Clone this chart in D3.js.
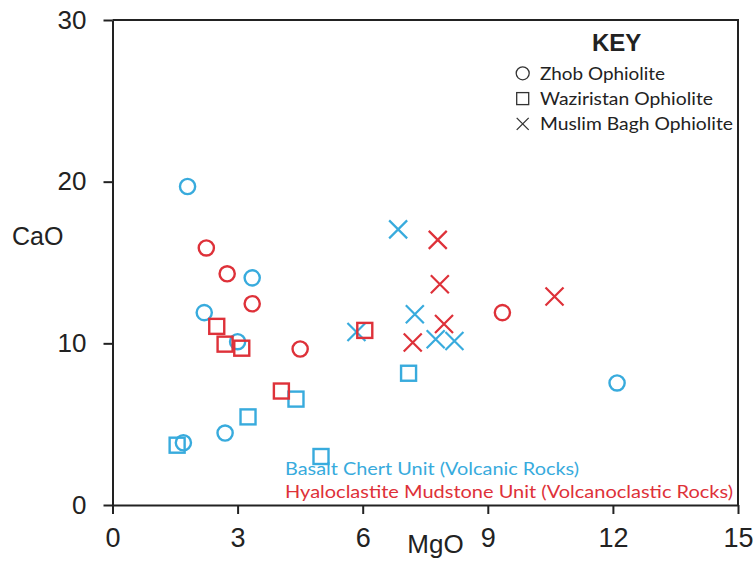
<!DOCTYPE html>
<html>
<head>
<meta charset="utf-8">
<script src="https://cdn.jsdelivr.net/npm/d3@7"></script>
<style>
  html, body { margin: 0; padding: 0; background: #fff; }
  svg { display: block; }
</style>
</head>
<body>
<svg id="chart" width="754" height="565"></svg>
<script>
// MgO vs CaO for volcanic and volcanoclastic rocks from three ophiolites

// Tick values for both axes
const xTicks = [0, 3, 6, 9, 12, 15];
const yTicks = [0, 10, 20, 30];

// Zhob Ophiolite (circles): [MgO, CaO]
const zhobBasalt = [[1.8, 19.7], [2.2, 11.9], [3.35, 14.05], [3.0, 10.1], [1.7, 3.85], [2.7, 4.45], [12.1, 7.55]];
const zhobHyalo  = [[2.25, 15.9], [2.75, 14.3], [3.35, 12.45], [4.5, 9.65], [9.35, 11.9]];

// Waziristan Ophiolite (squares)
const wazBasalt = [[1.55, 3.7], [3.25, 5.45], [4.4, 6.55], [5.0, 3.0], [7.1, 8.15]];
const wazHyalo  = [[2.5, 11.05], [2.7, 9.95], [3.1, 9.7], [4.05, 7.05], [6.05, 10.8]];

// Muslim Bagh Ophiolite (crosses)
const mbBasalt = [[6.85, 17.05], [7.25, 11.8], [5.85, 10.7], [7.75, 10.25], [8.2, 10.15]];
const mbHyalo  = [[7.8, 16.4], [7.85, 13.65], [10.6, 12.9], [7.95, 11.2], [7.2, 10.05]];

// Legend and unit labels
const keyTitle = "KEY";
const keyLabels = ["Zhob Ophiolite", "Waziristan Ophiolite", "Muslim Bagh Ophiolite"];
const keyShapes = ["circle", "square", "cross"];
const unitLabels = ["Basalt Chert Unit (Volcanic Rocks)", "Hyaloclastite Mudstone Unit (Volcanoclastic Rocks)"];

const BLUE = "#38abdd";
const RED = "#de3139";
const INK = "#222";

const svg = d3.select("#chart");
const x = d3.scaleLinear().domain([0, 15]).range([112.5, 738]);
const y = d3.scaleLinear().domain([0, 30]).range([505, 20]);

// Frame (top and right edges)
svg.append("path")
  .attr("d", `M${x(0)},${y(30)}H${x(15)}V${y(0)}`)
  .attr("fill", "none").attr("stroke", INK).attr("stroke-width", 2);

// Axes
const axisFont = "'Liberation Sans', Arial, sans-serif";
const gx = svg.append("g").attr("transform", `translate(0,${y(0)})`)
  .call(d3.axisBottom(x).tickValues(xTicks).tickSize(9).tickSizeOuter(0).tickPadding(14).tickFormat(d3.format("d")));
const gy = svg.append("g").attr("transform", `translate(${x(0)},0)`)
  .call(d3.axisLeft(y).tickValues(yTicks).tickSize(9).tickSizeOuter(0).tickPadding(17).tickFormat(d3.format("d")));
[gx, gy].forEach(g => {
  g.select(".domain").attr("stroke", INK).attr("stroke-width", 2);
  g.selectAll(".tick line").attr("stroke", INK).attr("stroke-width", 2);
  g.selectAll(".tick text").attr("fill", INK).style("font-family", axisFont);
});
gx.selectAll(".tick text").style("font-size", "27px");
gy.selectAll(".tick text").style("font-size", "26px");

// Axis titles
svg.append("text").text("MgO")
  .attr("x", 435.5).attr("y", 553).attr("text-anchor", "middle")
  .style("font-family", axisFont).style("font-size", "26px").attr("fill", INK);
svg.append("text").text("CaO")
  .attr("x", 12).attr("y", 245)
  .style("font-family", axisFont).style("font-size", "25px").attr("fill", INK);

// Marker drawing helpers
function drawCircles(data, color) {
  svg.append("g").selectAll("circle").data(data).join("circle")
    .attr("cx", d => x(d[0])).attr("cy", d => y(d[1])).attr("r", 7.6)
    .attr("fill", "none").attr("stroke", color).attr("stroke-width", 2.4);
}
function drawSquares(data, color) {
  const s = 15;
  svg.append("g").selectAll("rect").data(data).join("rect")
    .attr("x", d => x(d[0]) - s / 2).attr("y", d => y(d[1]) - s / 2)
    .attr("width", s).attr("height", s)
    .attr("fill", "none").attr("stroke", color).attr("stroke-width", 2.4);
}
function drawCrosses(data, color) {
  const h = 9;
  svg.append("g").selectAll("path").data(data).join("path")
    .attr("d", d => {
      const cx = x(d[0]), cy = y(d[1]);
      return `M${cx - h},${cy - h}L${cx + h},${cy + h}M${cx - h},${cy + h}L${cx + h},${cy - h}`;
    })
    .attr("fill", "none").attr("stroke", color).attr("stroke-width", 2.2);
}

drawCircles(zhobBasalt, BLUE);
drawSquares(wazBasalt, BLUE);
drawCrosses(mbBasalt, BLUE);
drawCircles(zhobHyalo, RED);
drawSquares(wazHyalo, RED);
drawCrosses(mbHyalo, RED);

// Key
const keyFont = "Lato, 'Open Sans', sans-serif";
svg.append("text").text(keyTitle)
  .attr("x", 616.7).attr("y", 50.5).attr("text-anchor", "middle")
  .style("font-family", axisFont).style("font-weight", "bold").style("font-size", "24px").attr("fill", INK);

const keyWidths = [125, 173, 193];
const key = svg.append("g");
keyLabels.forEach((label, i) => {
  const cy = 73.3 + i * 25.3;
  const cx = 522.7;
  const shape = keyShapes[i];
  if (shape === "circle") {
    key.append("circle").attr("cx", cx).attr("cy", cy).attr("r", 6.5)
      .attr("fill", "none").attr("stroke", "#333").attr("stroke-width", 1.3);
  } else if (shape === "square") {
    key.append("rect").attr("x", cx - 6).attr("y", cy - 6).attr("width", 12).attr("height", 12)
      .attr("fill", "none").attr("stroke", "#333").attr("stroke-width", 1.3);
  } else {
    key.append("path").attr("d", `M${cx - 6},${cy - 6}L${cx + 6},${cy + 6}M${cx - 6},${cy + 6}L${cx + 6},${cy - 6}`)
      .attr("fill", "none").attr("stroke", "#333").attr("stroke-width", 1.3);
  }
  key.append("text").text(label)
    .attr("x", 540).attr("y", cy + 6.5)
    .attr("textLength", keyWidths[i]).attr("lengthAdjust", "spacingAndGlyphs")
    .style("font-family", keyFont).style("font-size", "18px").attr("fill", INK);
});

// Unit labels
svg.append("text").text(unitLabels[0])
  .attr("x", 285).attr("y", 475)
  .attr("textLength", 294).attr("lengthAdjust", "spacingAndGlyphs")
  .style("font-family", keyFont).style("font-size", "17px").attr("fill", BLUE);
svg.append("text").text(unitLabels[1])
  .attr("x", 285).attr("y", 498)
  .attr("textLength", 448).attr("lengthAdjust", "spacingAndGlyphs")
  .style("font-family", keyFont).style("font-size", "17px").attr("fill", RED);
</script>
</body>
</html>
